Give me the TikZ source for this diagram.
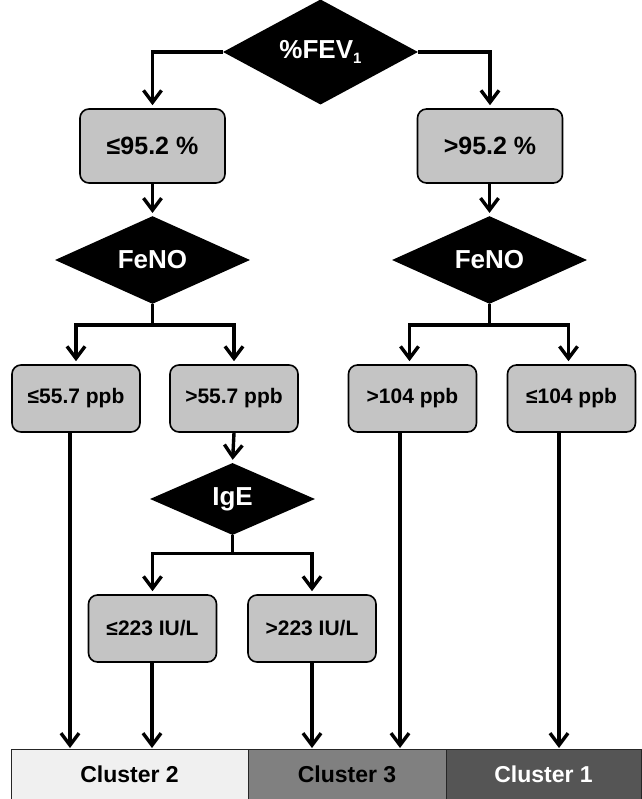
\documentclass[tikz,border=0pt]{standalone}
\usepackage{fontspec}
\setmainfont{Liberation Sans}
\usetikzlibrary{shapes.geometric,arrows.meta}
\definecolor{boxgray}{RGB}{196,196,196}
\definecolor{cltwo}{RGB}{240,240,240}
\definecolor{clthree}{RGB}{128,128,128}
\definecolor{clone}{RGB}{85,85,85}
\begin{document}
\begin{tikzpicture}[x=1pt,y=-1pt,
  ln/.style={line width=3.4pt, draw=black},
  arr/.style={ln, -{Straight Barb[length=12pt,width=18pt]}, shorten >=3pt},
  box/.style={draw=black, line width=1.6pt, fill=boxgray, rounded corners=9pt,
    minimum width=128pt, minimum height=67pt, inner sep=0pt,
    font=\bfseries\fontsize{21}{21}\selectfont, text=black},
  bigbox/.style={box, minimum width=145pt, minimum height=74pt,
    font=\bfseries\fontsize{25}{25}\selectfont},
  dia/.style={diamond, fill=black, draw=none, inner sep=0pt, text=white,
    font=\bfseries\fontsize{26}{26}\selectfont},
  cl/.style={draw=black!85, line width=1pt, minimum height=50pt, inner sep=0pt,
    font=\bfseries\fontsize{23}{23}\selectfont}]
\useasboundingbox (0,0) rectangle (641,799);

% decision nodes
\node[dia, minimum width=195pt, minimum height=82pt] (fev) at (320.5,52)
  {\%FEV\raisebox{-5pt}{\fontsize{15}{15}\selectfont 1}};
\node[bigbox] (b1) at (152.5,146) {≤95.2 \%};
\node[bigbox] (b2) at (490,146) {>95.2 \%};
\node[dia, minimum width=195pt, minimum height=84pt] (fenoL) at (152.5,260) {FeNO};
\node[dia, minimum width=195pt, minimum height=84pt] (fenoR) at (489.5,260) {FeNO};
\node[box] (b3) at (76,398.5) {≤55.7 ppb};
\node[box] (b4) at (234,398.5) {>55.7 ppb};
\node[box] (b5) at (412.5,398.5) {>104 ppb};
\node[box] (b6) at (571.5,398.5) {≤104 ppb};
\node[dia, minimum width=165pt, minimum height=72pt] (ige) at (232.5,499) {IgE};
\node[box] (b7) at (152.5,628.5) {≤223 IU/L};
\node[box] (b8) at (312,628.5) {>223 IU/L};

% clusters
\node[cl, fill=cltwo, minimum width=237pt] (c2) at (129.5,774) {Cluster 2};
\node[cl, fill=clthree, minimum width=198pt] (c3) at (347,774) {Cluster 3};
\node[cl, fill=clone, minimum width=195pt, text=white] (c1) at (543.5,774) {Cluster 1};

% connectors
\draw[arr] (fev.west) -| (b1.north);
\draw[arr] (fev.east) -| (b2.north);
\draw[arr] (b1.south) -- (fenoL.north);
\draw[arr] (b2.south -| fenoR.north) -- (fenoR.north);

\draw[ln] (fenoL.south) -- ++(0,21) coordinate (jL);
\draw[arr] (jL) -| (b3.north);
\draw[arr] (jL) -| (b4.north);
\draw[ln] (fenoR.south) -- ++(0,21) coordinate (jR);
\draw[arr] (jR) -| ([xshift=-3pt]b5.north);
\draw[arr] (jR) -| ([xshift=-3pt]b6.north);

\draw[arr] (b4.south) -- (ige.north);
\draw[ln] (ige.south) -- ++(0,18) coordinate (jI);
\draw[arr] (jI) -| (b7.north);
\draw[arr] (jI) -| (b8.north);

\coordinate (t1) at (70,751);
\coordinate (t2) at (152,751);
\coordinate (t3) at (312,751);
\coordinate (t4) at (400,751);
\coordinate (t5) at (559,751);
\draw[arr] (b3.south -| t1) -- (t1);
\draw[arr] (b7.south -| t2) -- (t2);
\draw[arr] (b8.south -| t3) -- (t3);
\draw[arr] (b5.south -| t4) -- (t4);
\draw[arr] (b6.south -| t5) -- (t5);
\end{tikzpicture}
\end{document}
